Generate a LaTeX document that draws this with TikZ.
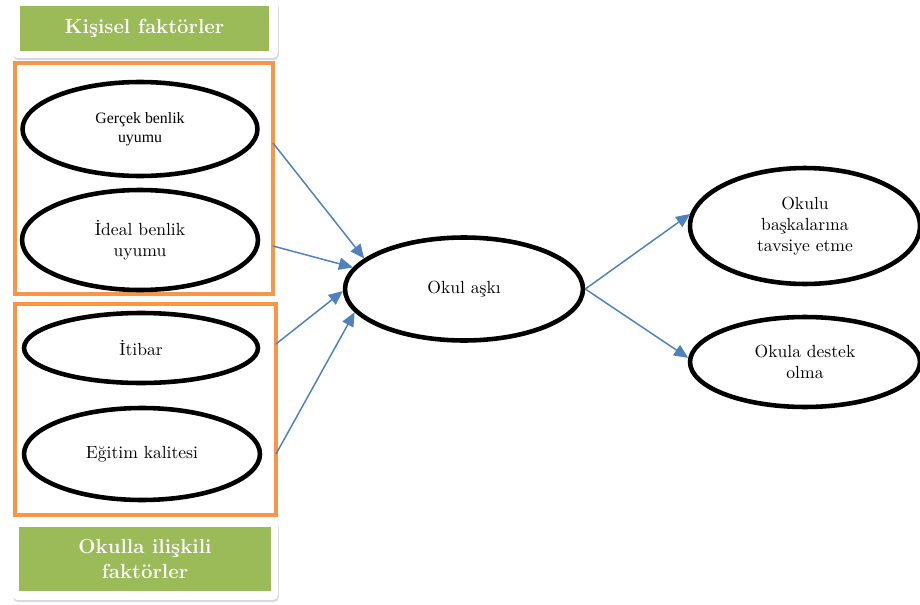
\documentclass[tikz,border=0pt]{standalone}
\usepackage{fontspec}
\newfontfamily\timesfont{Liberation Serif}
\usetikzlibrary{shapes,positioning,shadows,arrows.meta}
\definecolor{okorange}{RGB}{247,150,70}
\definecolor{okgreen}{RGB}{155,187,89}
\definecolor{okblue}{RGB}{79,129,189}
\tikzstyle{arrow} = [line width=0.85pt,-{Triangle[length=8pt,width=7pt]},color=okblue]
\tikzstyle{oval} = [draw, ellipse, line width=2.6pt, align=center, inner sep=0pt]
\tikzstyle{group} = [draw=okorange, line width=2.3pt]
\tikzstyle{panel} = [fill=white, rounded corners=3pt, drop shadow={opacity=0.3,shadow xshift=0.5pt,shadow yshift=-1.2pt}]
\tikzstyle{title} = [fill=okgreen, text=white, align=center, font=\fontsize{11.6}{14.5}\selectfont\bfseries]

\begin{document}
\begin{tikzpicture}[x=0.02cm, y=-0.02cm]
\useasboundingbox (0,0) rectangle (920,605);

% Title panels
\node[panel, minimum width=5.32cm, minimum height=1.16cm] (ptop) at (145,29) {};
\node[title, minimum width=4.98cm, minimum height=0.9cm] (kisisel) at (144.5,28.5) {Kişisel faktörler};
\node[panel, minimum width=5.32cm, minimum height=1.6cm] (pbot) at (145,560) {};
\node[title, minimum width=5.04cm, minimum height=1.28cm] (okulla) at (145,559) {Okulla ilişkili\\faktörler};

% Groups
\node[group, minimum width=5.16cm, minimum height=4.62cm] (kbox) at (144,178.5) {};
\node[group, minimum width=5.22cm, minimum height=4.22cm] (obox) at (145.5,409.5) {};

% Left factors
\node[oval, minimum width=4.7cm, minimum height=1.88cm, font=\timesfont\fontsize{9}{11}\selectfont] (gercek) at (140,129) {Gerçek benlik\\uyumu};
\node[oval, minimum width=4.72cm, minimum height=2cm] (ideal) at (140,240) {İdeal benlik\\uyumu};
\node[oval, minimum width=4.68cm, minimum height=1.4cm] (itibar) at (141,348) {İtibar};
\node[oval, minimum width=4.72cm, minimum height=1.84cm] (egitim) at (142,454) {Eğitim kalitesi};

% Center and outcomes
\node[oval, minimum width=4.76cm, minimum height=2.06cm] (ask) at (464,289) {Okul aşkı};
\node[oval, minimum width=4.6cm, minimum height=2.32cm] (tavsiye) at (805,226) {Okulu\\başkalarına\\tavsiye etme};
\node[oval, minimum width=4.6cm, minimum height=1.8cm] (destek) at (805,362) {Okula destek\\olma};

% Arrow starts on the group borders
\coordinate (s1) at (273,143);
\coordinate (s2) at (273,246);
\coordinate (s3) at (276,344);
\coordinate (s4) at (276,454);

\draw[arrow] (s1) -- (ask.163);
\draw[arrow] (s2) -- (ask.169);
\draw[arrow] (s3) -- (ask.181);
\draw[arrow] (s4) -- (ask.192);
\draw[arrow] (ask.east) -- (tavsiye.174);
\draw[arrow] (ask.east) -- (destek.178);
\end{tikzpicture}
\end{document}
